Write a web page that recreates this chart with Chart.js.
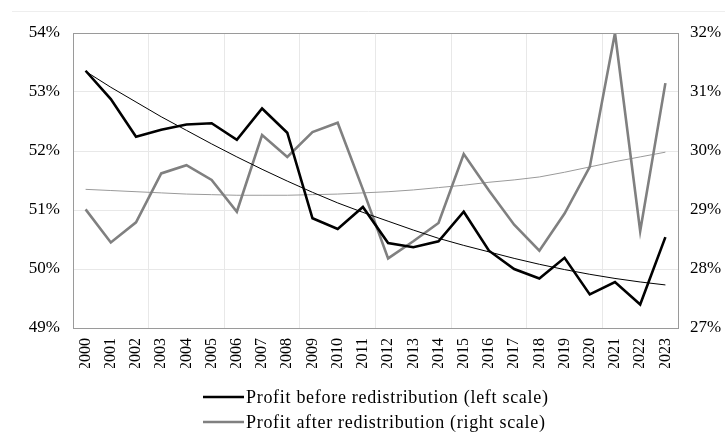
<!DOCTYPE html>
<html lang="en">
  <head>
    <meta charset="UTF-8" />
    <title>Profit before and after redistribution</title>
    <script src="https://cdn.jsdelivr.net/npm/chart.js@4/dist/chart.umd.min.js"></script>
    <style>
      html, body { margin: 0; padding: 0; background: #fff; }
      #wrap { width: 725px; height: 434px; }
    </style>
  </head>
  <body>
    <div id="wrap"><canvas id="chart" width="725" height="434"></canvas></div>
    <script>
      const years = [
        "2000", "2001", "2002", "2003", "2004", "2005", "2006", "2007", "2008", "2009", "2010", "2011",
        "2012", "2013", "2014", "2015", "2016", "2017", "2018", "2019", "2020", "2021", "2022", "2023",
      ];
      // left scale
      const profitBefore = [
        53.36, 52.88, 52.24, 52.36, 52.45, 52.47, 52.19, 52.72, 52.31, 50.86, 50.68, 51.05,
        50.44, 50.37, 50.47, 50.97, 50.31, 50.0, 49.84, 50.19, 49.57, 49.78, 49.4, 50.54,
      ];
      const trendBefore = [
        53.35, 53.08, 52.83, 52.58, 52.35, 52.12, 51.9, 51.69, 51.49, 51.3, 51.12, 50.96,
        50.81, 50.66, 50.52, 50.4, 50.29, 50.18, 50.08, 49.99, 49.91, 49.84, 49.78, 49.73,
      ];
      // right scale
      const profitAfter = [
        29.01, 28.45, 28.79, 29.62, 29.76, 29.51, 28.97, 30.27, 29.9, 30.32, 30.48, 29.35,
        28.18, 28.47, 28.78, 29.95, 29.33, 28.75, 28.31, 28.94, 29.73, 32.0, 28.64, 31.15,
      ];
      const trendAfter = [
        29.35, 29.33, 29.31, 29.29, 29.27, 29.26, 29.25, 29.25, 29.25, 29.26, 29.27, 29.29,
        29.31, 29.34, 29.38, 29.42, 29.47, 29.51, 29.56, 29.64, 29.73, 29.82, 29.9, 29.98,
      ];
      const legendLabels = ["Profit before redistribution (left scale)", "Profit after redistribution (right scale)"];

      const serif = "'Liberation Serif', 'DejaVu Serif', serif";
      const axisGray = "#9a9a9a";
      const gridGray = "#e8e8e8";

      // top frame line + legend drawn by hand so they sit where the original has them
      const extras = {
        id: "extras",
        afterDraw(chart) {
          const { ctx, chartArea } = chart;
          ctx.save();
          ctx.strokeStyle = "#eeeeee";
          ctx.lineWidth = 1;
          ctx.beginPath();
          ctx.moveTo(12, 11.5);
          ctx.lineTo(725, 11.5);
          ctx.stroke();

          ctx.strokeStyle = axisGray;
          ctx.beginPath();
          ctx.moveTo(chartArea.left, chartArea.top + 0.5);
          ctx.lineTo(chartArea.right, chartArea.top + 0.5);
          ctx.stroke();

          const colors = ["#000000", "#808080"];
          ctx.font = "18px " + serif;
          ctx.letterSpacing = "0.7px";
          ctx.textBaseline = "middle";
          ctx.textAlign = "left";
          legendLabels.forEach((txt, i) => {
            const y = 397 + i * 25;
            ctx.strokeStyle = colors[i];
            ctx.lineWidth = 2.5;
            ctx.beginPath();
            ctx.moveTo(203, y);
            ctx.lineTo(244, y);
            ctx.stroke();
            ctx.fillStyle = "#000";
            ctx.fillText(txt, 246, y + 1);
          });
          ctx.restore();
        },
      };

      new Chart(document.getElementById("chart"), {
        type: "line",
        data: {
          labels: years,
          datasets: [
            { data: profitBefore, yAxisID: "y", borderColor: "#000", borderWidth: 2.6 },
            { data: trendBefore, yAxisID: "y", borderColor: "#000", borderWidth: 1 },
            { data: profitAfter, yAxisID: "y1", borderColor: "#808080", borderWidth: 2.6 },
            { data: trendAfter, yAxisID: "y1", borderColor: "#9a9a9a", borderWidth: 1 },
          ],
        },
        options: {
          responsive: false,
          animation: false,
          events: [],
          elements: { point: { radius: 0 }, line: { tension: 0, fill: false } },
          layout: { padding: { top: 33, bottom: 66, left: 0, right: 0 } },
          plugins: { legend: { display: false }, tooltip: { enabled: false } },
          scales: {
            x: {
              offset: true,
              grid: {
                offset: true,
                drawTicks: false,
                color: (c) => (c.index > 0 && c.index < 24 && c.index % 3 === 0 ? gridGray : "transparent"),
              },
              border: { color: axisGray, width: 1 },
              ticks: {
                autoSkip: false,
                minRotation: 90,
                maxRotation: 90,
                padding: 10,
                color: "#000",
                font: { family: serif, size: 16 },
              },
              afterFit: (s) => { s.height = 40; },
            },
            y: {
              position: "left",
              min: 49,
              max: 54,
              ticks: {
                stepSize: 1,
                padding: 13,
                color: "#000",
                font: { family: serif, size: 17 },
                callback: (v) => v + "%",
              },
              grid: { color: gridGray, drawTicks: false },
              border: { color: axisGray, width: 1 },
              afterFit: (s) => { s.width = 73; },
            },
            y1: {
              position: "right",
              min: 27,
              max: 32,
              ticks: {
                stepSize: 1,
                padding: 12,
                color: "#000",
                font: { family: serif, size: 17 },
                callback: (v) => v + "%",
              },
              grid: { drawOnChartArea: false, drawTicks: false },
              border: { color: axisGray, width: 1 },
              afterFit: (s) => { s.width = 47; },
            },
          },
        },
        plugins: [extras],
      });
    </script>
  </body>
</html>
